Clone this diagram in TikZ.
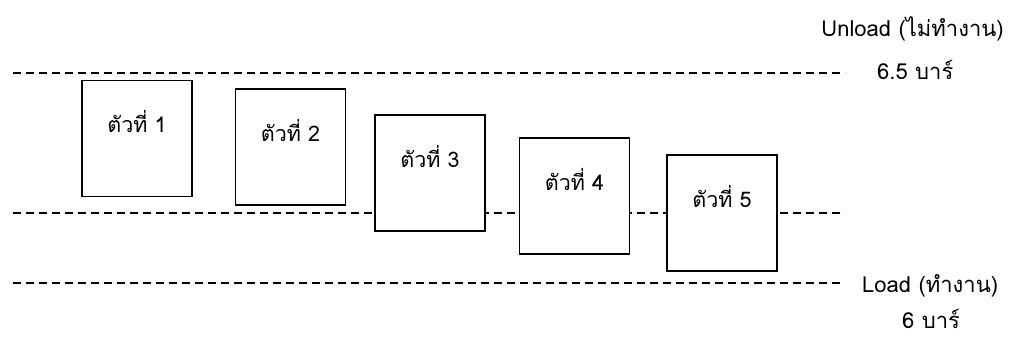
\documentclass[tikz,border=0pt]{standalone}
\usepackage{fontspec}
\usetikzlibrary{calc}
\setmainfont[Script=Thai]{Loma}
\begin{document}
\begin{tikzpicture}[x=1pt,y=-1pt,
  dline/.style={line width=1.3pt,dash pattern=on 8pt off 5pt},
  unit/.style={draw,fill=white,line width=1.5pt,minimum width=110pt,minimum height=116pt,inner sep=0pt},
  utext/.style={font=\fontsize{21.5}{24}\selectfont,inner sep=0pt,anchor=base},
  side/.style={font=\fontsize{22}{25}\selectfont,inner sep=0pt}]
\useasboundingbox (0,0) rectangle (1015,340);
% dashed levels
\coordinate (tl) at (13,73);  \coordinate (tr) at (845,73);
\coordinate (ml) at (13,213); \coordinate (mr) at (845,213);
\coordinate (bl) at (13,283); \coordinate (br) at (843,283);
\draw[dline] (tl) -- (tr);
\draw[dline] (ml) -- (mr);
\draw[dline] (bl) -- (br);
% boxes
\node[unit] (b1) at (137,138.5) {};
\node[unit] (b2) at (290.5,147) {};
\node[unit] (b3) at (430,173) {};
\node[unit] (b4) at (574.5,196) {};
\node[unit] (b5) at (722,213) {};
\node[utext] (t1) at ($(b1.north)+(0,53)$) {ตัวที่ 1};
\node[utext] (t2) at ($(b2.north)+(0,53)$) {ตัวที่ 2};
\node[utext] (t3) at ($(b3.north)+(0,53)$) {ตัวที่ 3};
\node[utext] (t4) at ($(b4.north)+(0,53)$) {ตัวที่ 4};
\node[utext] (t5) at ($(b5.north)+(0,53)$) {ตัวที่ 5};
% side labels
\node[side,anchor=base east] (unl) at (1004,36) {Unload (ไม่ทำงาน)};
\node[side,anchor=base west] (p65) at (877,79) {6.5 บาร์};
\node[side,anchor=base west] (lod) at (862,292) {Load (ทำงาน)};
\node[side,anchor=base west] (p6) at (902,328) {6 บาร์};
\end{tikzpicture}
\end{document}
